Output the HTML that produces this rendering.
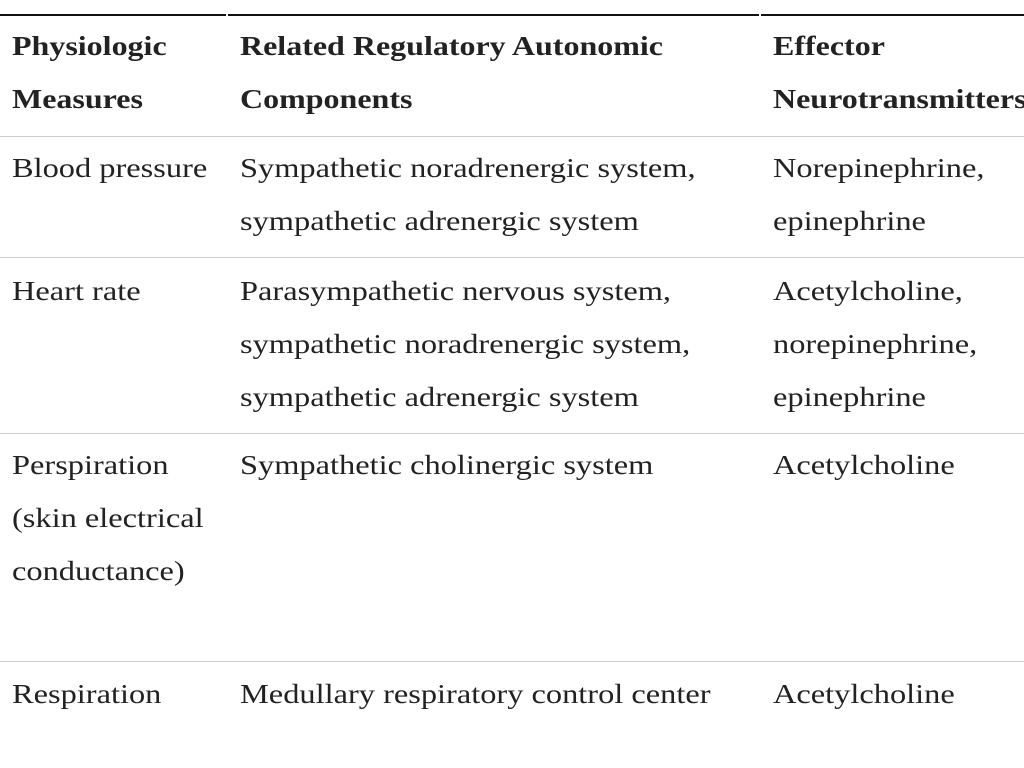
<!DOCTYPE html>
<html><head><style>
body{margin:0;width:1024px;height:768px;background:#fff;position:relative;overflow:hidden;font-family:"Liberation Serif",serif;font-size:27px;color:#222;}
.t{position:absolute;line-height:53px;white-space:nowrap;transform:scaleX(1.2);transform-origin:0 0;}
.t.b{transform:scaleX(1.185);font-weight:bold;}
.h{position:absolute;height:1px;background:#ccc;}
.k{position:absolute;height:2px;background:#111;top:14px;}
</style></head><body>
<div class="k" style="left:0;width:226px"></div>
<div class="k" style="left:228px;width:531px"></div>
<div class="k" style="left:761px;width:263px"></div>
<div class="h" style="top:136px;left:0;width:1024px"></div>
<div class="h" style="top:257px;left:0;width:1024px"></div>
<div class="h" style="top:433px;left:0;width:1024px"></div>
<div class="h" style="top:661px;left:0;width:1024px"></div>

<div class="t b" style="left:12px;top:20px">Physiologic<br>Measures</div>
<div class="t b" style="left:240px;top:20px">Related Regulatory Autonomic<br>Components</div>
<div class="t b" style="left:773px;top:20px">Effector<br>Neurotransmitters</div>

<div class="t" style="left:12px;top:142px">Blood pressure</div>
<div class="t" style="left:240px;top:142px">Sympathetic noradrenergic system,<br>sympathetic adrenergic system</div>
<div class="t" style="left:773px;top:142px">Norepinephrine,<br>epinephrine</div>

<div class="t" style="left:12px;top:265px">Heart rate</div>
<div class="t" style="left:240px;top:265px">Parasympathetic nervous system,<br>sympathetic noradrenergic system,<br>sympathetic adrenergic system</div>
<div class="t" style="left:773px;top:265px">Acetylcholine,<br>norepinephrine,<br>epinephrine</div>

<div class="t" style="left:12px;top:439px">Perspiration<br>(skin electrical<br>conductance)</div>
<div class="t" style="left:240px;top:439px">Sympathetic cholinergic system</div>
<div class="t" style="left:773px;top:439px">Acetylcholine</div>

<div class="t" style="left:12px;top:668px">Respiration</div>
<div class="t" style="left:240px;top:668px">Medullary respiratory control center</div>
<div class="t" style="left:773px;top:668px">Acetylcholine</div>
</body></html>
